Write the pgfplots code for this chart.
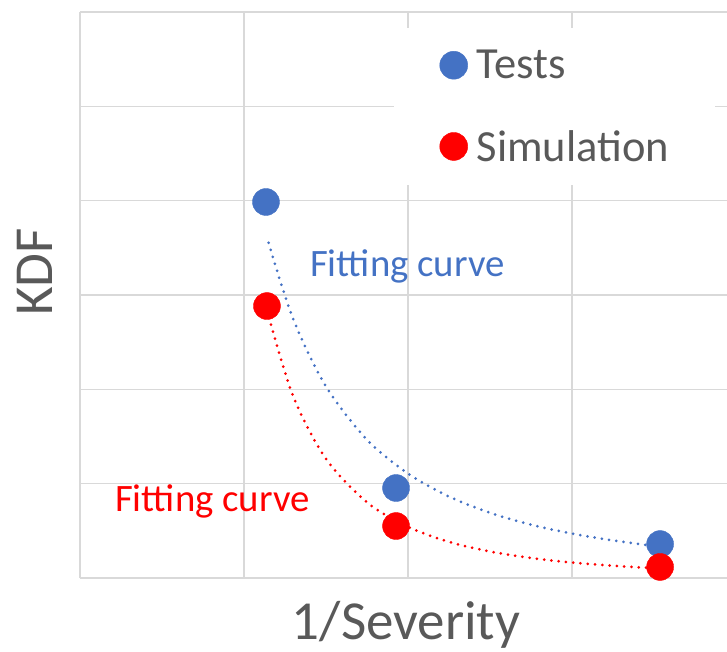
\documentclass[border=0pt]{standalone}
\usepackage{pgfplots}
\pgfplotsset{compat=1.18}
\usepackage{fontspec}
\setmainfont{Carlito}
\definecolor{testblue}{HTML}{4472C4}
\definecolor{simred}{HTML}{FF0000}
\definecolor{labelgray}{HTML}{595959}
\definecolor{gridgray}{HTML}{D9D9D9}
\newcommand\legendfont{\fontsize{44.5bp}{50bp}\selectfont}
\newcommand\labelfont{\fontsize{55bp}{60bp}\selectfont}
\newcommand\notefont{\fontsize{38.8bp}{44bp}\selectfont}

\begin{document}
\begin{tikzpicture}
\begin{axis}[
  scale only axis,
  width=647bp, height=566bp,
  xmin=0, xmax=3.945, ymin=0, ymax=6,
  xtick={0,1,2,3,4}, ytick={0,1,...,6},
  xticklabels={}, yticklabels={},
  major tick length=0pt,
  grid=major,
  major grid style={draw=gridgray, line width=1.6bp},
  axis line style={draw=none},
  clip=false,
  xlabel={1/Severity}, ylabel={KDF},
  every axis x label/.style={at={(axis description cs:0.504,-0.1078)}, anchor=base, font=\labelfont, text=labelgray},
  every axis y label/.style={at={(axis description cs:-0.0696,0.5406)}, anchor=center, rotate=90, font=\labelfont, text=labelgray},
  legend style={at={(rel axis cs:0.4846,0.9717)}, anchor=north west,
    draw=none, fill=white, inner xsep=46bp, inner ysep=22bp,
    font=\legendfont, text=labelgray, row sep=50bp,
    nodes={inner sep=0pt},
    /tikz/every odd column/.append style={column sep=9bp}},
  legend cell align=left,
  legend image code/.code={\draw[#1, mark size=14bp] plot coordinates {(0bp,0bp)};},
]

% power-law trend lines through the two data sets
\addplot[testblue, line width=3bp, dash pattern=on 0bp off 7.3bp, line cap=round, smooth, forget plot]
  coordinates {(1.15,3.553) (1.3,2.744) (1.5,2.029) (1.75,1.466) (2.0,1.107) (2.25,0.863)
               (2.5,0.691) (2.75,0.565) (3.0,0.471) (3.25,0.398) (3.5,0.340)};
\addplot[simred, line width=3bp, dash pattern=on 0bp off 7.3bp, line cap=round, smooth, forget plot]
  coordinates {(1.14,2.835) (1.3,1.925) (1.5,1.263) (1.75,0.802) (2.0,0.542) (2.25,0.383)
               (2.5,0.281) (2.75,0.212) (3.0,0.164) (3.25,0.130) (3.5,0.104)};

% measured and simulated points
\addplot[only marks, mark=*, mark size=13.5bp, color=testblue, mark options={draw=testblue, fill=testblue}]
  coordinates {(1.134,3.986) (1.927,0.954) (3.537,0.360)};
\addlegendentry{Tests}
\addplot[only marks, mark=*, mark size=13.5bp, color=simred, mark options={draw=simred, fill=simred}]
  coordinates {(1.14,2.883) (1.927,0.551) (3.537,0.117)};
\addlegendentry{Simulation}

\node[anchor=base west, text=testblue, font=\notefont, inner sep=0pt] at (axis cs:1.402,3.191) {Fitting curve};
\node[anchor=base west, text=simred, font=\notefont, inner sep=0pt] at (axis cs:0.213,0.70) {Fitting curve};
\end{axis}
\pgfresetboundingbox
\path ([shift={(-80bp,-74bp)}]current axis.south west) rectangle ([shift={(0bp,12bp)}]current axis.north east);
\end{tikzpicture}
\end{document}
